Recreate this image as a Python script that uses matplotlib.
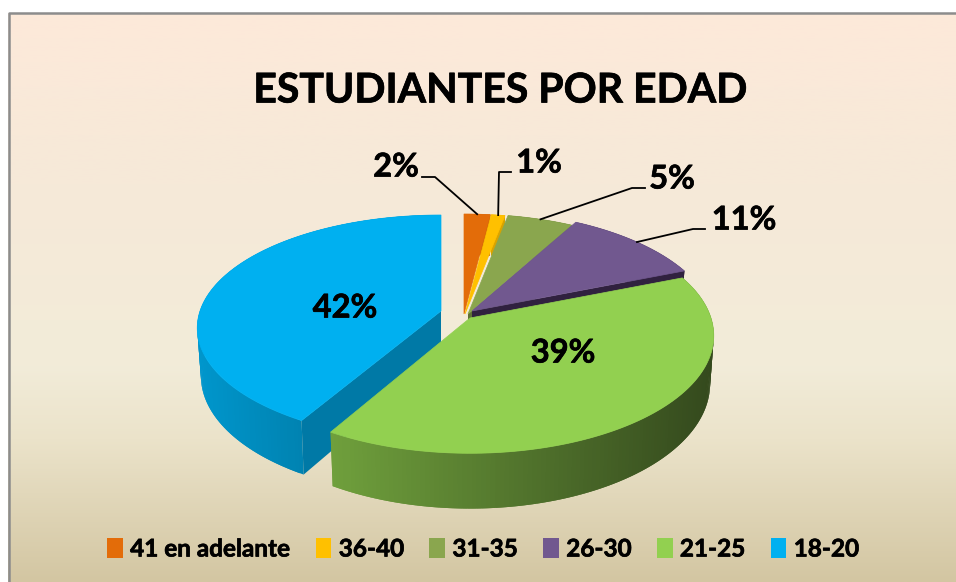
import matplotlib
matplotlib.use("Agg")
import matplotlib.pyplot as plt
from matplotlib.patches import Polygon, Patch
from matplotlib.colors import LinearSegmentedColormap, to_rgb
import matplotlib.patheffects as pe
import numpy as np

plt.rcParams['font.family'] = ['Lato', 'DejaVu Sans']

# slices clockwise from 12 o'clock
categorias = ["41 en adelante", "36-40", "31-35", "26-30", "21-25", "18-20"]
valores = [2.0, 1.05, 5.05, 10.9, 39.4, 41.6]
colores = ["#e36c09", "#ffc000", "#8aa64e", "#71588f", "#92d050", "#00b0f0"]
titulo = "ESTUDIANTES POR EDAD"

# pie shape, in pixels
rx, ry, k, depth = 241, 115, 0.15, 47
centros = [(464, 314), (465, 314), (468, 314), (472, 311), (470, 318), (441, 311)]
escala_y = [1, 1, 1, 1, 1, 0.96]
lado_claro = ["#c05a08", "#d9a300", "#6e8a3a", "#30213f", "#6f9f3c", "#0096cc"]
lado_oscuro = ["#c05a08", "#d9a300", "#5c6e32", "#30213f", "#34491d", "#0082b0"]
corte_ini = [True, False, False, False, False, True]
corte_fin = [False, False, True, True, False, True]
corte_color = ["#eaa26e", "#d9a300", "#5f7034", "#30213f", "#34491d", "#0079a6"]
orden = [0, 1, 2, 3, 5, 4]

etiquetas = [(396, 167), (539, 163), (672, 179), (744, 220), (563, 353), (345, 308)]
codos = [(435, 177), (499, 172), (632, 188), (693, 229), None, None]
inicio_linea = [(422, 177), (511, 172), (645, 188), (705, 229), None, None]
grueso = [pe.withStroke(linewidth=0.5, foreground="black")]

fig = plt.figure(figsize=(9.56, 5.82), dpi=100, facecolor="white")
ax = fig.add_axes([0, 0, 1, 1])

# background
fondo = LinearSegmentedColormap.from_list("fondo", [
    (0.0, "#fde9da"), (0.3, "#f6e9d8"), (0.62, "#f2ecd9"),
    (0.75, "#ebe3ca"), (1.0, "#d3c6a2")])
ax.imshow(np.linspace(0, 1, 256).reshape(-1, 1), cmap=fondo, aspect="auto",
          extent=[8, 956, 582, 13], zorder=0)
ax.set_xlim(0, 956)
ax.set_ylim(582, 0)
ax.axis("off")
ax.plot([9, 9, 956], [582, 13, 13], color="#8c8c8c", lw=1.8, zorder=1)


def proyectar(theta, c, i, abajo=False):
    u = np.sin(theta)
    v = np.cos(theta)
    w = 1 + k * v
    x = c[0] + rx * u / w
    y = c[1] - ry * escala_y[i] * v / w
    if abajo:
        x = c[0] + (x - c[0]) * 0.985
        y = y + depth / w
    return x, y


bordes = np.cumsum([0] + valores) / sum(valores) * 2 * np.pi

z = 5
for i in orden:
    c = centros[i]
    t0, t1 = bordes[i], bordes[i + 1]
    arco = np.linspace(t0, t1, max(int((t1 - t0) * 60), 4) + 1)

    # outer wall, shaded by position along the rim
    claro, oscuro = np.array(to_rgb(lado_claro[i])), np.array(to_rgb(lado_oscuro[i]))
    for n in range(len(arco) - 1):
        a = arco[n]
        b = arco[min(n + 2, len(arco) - 1)]  # overlap the next strip, no seams
        xa, ya = proyectar(a, c, i)
        xb, yb = proyectar(b, c, i)
        xa2, ya2 = proyectar(a, c, i, abajo=True)
        xb2, yb2 = proyectar(b, c, i, abajo=True)
        if i == 4:
            f = np.clip((xa - 335) / (714 - 335), 0, 1)
        else:
            f = np.clip((xa - 198) / 110, 0, 1)
        col = claro + (oscuro - claro) * f
        ax.add_patch(Polygon([(xa, ya), (xb, yb), (xb2, yb2), (xa2, ya2)],
                             closed=True, fc=col, ec="none", zorder=z))
        z += 0.001
    z = int(z) + 1

    # cut faces
    ac2 = (c[0], c[1] + depth)
    if corte_ini[i]:
        ax.add_patch(Polygon([c, proyectar(t0, c, i), proyectar(t0, c, i, abajo=True), ac2],
                             closed=True, fc=corte_color[i], ec="none", zorder=z))
    if corte_fin[i]:
        ax.add_patch(Polygon([c, proyectar(t1, c, i), proyectar(t1, c, i, abajo=True), ac2],
                             closed=True, fc=corte_color[i], ec="none", zorder=z))
    z += 1

    # top face
    xs, ys = proyectar(arco, c, i)
    ax.add_patch(Polygon(np.column_stack([np.r_[c[0], xs], np.r_[c[1], ys]]),
                         closed=True, fc=colores[i], ec=colores[i], lw=0.5, zorder=z))
    z += 1

# leader lines and labels
for i, v in enumerate(valores):
    px, py = etiquetas[i]
    ax.text(px, py, f"{round(v)}%", ha="center", va="center", fontsize=23.5,
            fontweight="bold", color="black", zorder=200, path_effects=grueso)
    if codos[i] is not None:
        medio = (bordes[i] + bordes[i + 1]) / 2
        fx, fy = proyectar(medio, centros[i], i)
        ax.plot([inicio_linea[i][0], codos[i][0], fx], [inicio_linea[i][1], codos[i][1], fy],
                color="black", lw=1.3, zorder=150)

ax.text(500, 91, titulo, ha="center", va="center", fontsize=29.5, fontweight="bold",
        color="black", zorder=200, path_effects=grueso)

proxies = [Patch(facecolor=col, edgecolor="none") for col in colores]
ley = ax.legend(proxies, categorias, ncol=6, loc="center", bbox_to_anchor=(483 / 956, 1 - 549 / 582),
                frameon=False, prop={"size": 17.5, "weight": "bold"}, handlelength=0.65,
                handleheight=0.85, handletextpad=0.3, columnspacing=1.05, borderpad=0)
for t in ley.get_texts():
    t.set_path_effects(grueso)

fig.savefig("out.png", dpi=100)
